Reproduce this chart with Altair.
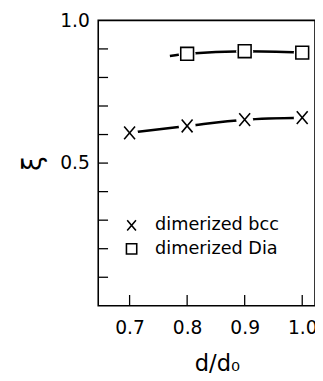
import altair as alt
import pandas as pd

# data
bcc_x = [0.7, 0.8, 0.9, 1.0]
bcc_y = [0.606, 0.630, 0.652, 0.659]
dia_x = [0.8, 0.9, 1.0]
dia_y = [0.883, 0.892, 0.887]
dia_line_x = [0.77, 0.8, 0.9, 1.0]
dia_line_y = [0.875, 0.883, 0.892, 0.887]
series = ["dimerized bcc", "dimerized Dia"]
x_tick_values = [0.7, 0.8, 0.9, 1.0]
y_tick_values = [0.1, 0.2, 0.3, 0.4, 0.5, 0.6, 0.7, 0.8, 0.9]
y_label_values = [0.5, 1.0]

FONT = "DejaVu Sans"
W, H = 221, 291
X_PATH = "M-0.85,-1L0.85,1M-0.85,1L0.85,-1"

lines = pd.concat([
    pd.DataFrame({"x": bcc_x, "y": bcc_y, "s": series[0]}),
    pd.DataFrame({"x": dia_line_x, "y": dia_line_y, "s": series[1]}),
])
pts = pd.concat([
    pd.DataFrame({"x": bcc_x, "y": bcc_y, "s": series[0]}),
    pd.DataFrame({"x": dia_x, "y": dia_y, "s": series[1]}),
])

xs = alt.Scale(domain=[0.6455, 1.0222], nice=False, zero=False)
ys = alt.Scale(domain=[0, 1.0], nice=False, zero=False)
shape_scale = alt.Scale(domain=series, range=[X_PATH, "square"])

xenc = alt.X("x:Q", scale=xs,
             axis=alt.Axis(title="d/d₀", values=x_tick_values, format=".1f",
                           domain=False, ticks=False, grid=False,
                           labelFont=FONT, labelFontSize=19, labelColor="black",
                           labelPadding=13, titleFont=FONT, titleFontSize=23,
                           titleFontWeight="normal", titleColor="black",
                           titlePadding=16, titleX=121))
yenc = alt.Y("y:Q", scale=ys,
             axis=alt.Axis(title="ξ", values=y_label_values, format=".1f",
                           domain=False, ticks=False, grid=False,
                           labelFont=FONT, labelFontSize=19, labelColor="black",
                           labelPadding=9, titleFont=FONT, titleFontSize=27,
                           titleFontWeight="normal", titleColor="black",
                           titlePadding=14))

line = alt.Chart(lines).mark_line(color="black", strokeWidth=2.6,
                                  interpolate="monotone").encode(
    x=xenc, y=yenc, detail="s:N")

halo = alt.Chart(pts).mark_circle(color="white", opacity=1, size=300).encode(
    x="x:Q", y="y:Q")

marks = alt.Chart(pts).mark_point(color="black", strokeWidth=1.6,
                                  filled=False, opacity=1, size=170).encode(
    x="x:Q", y="y:Q",
    shape=alt.Shape("s:N", scale=shape_scale,
                    legend=alt.Legend(title=None, orient="none", legendX=25,
                                      legendY=200, labelFont=FONT,
                                      labelFontSize=18, labelColor="black",
                                      labelOffset=15, rowPadding=6,
                                      symbolSize=110, symbolStrokeWidth=1.6,
                                      symbolStrokeColor="black")))

ytick_df = pd.DataFrame({"v": y_tick_values})
xtick_df = pd.DataFrame({"v": x_tick_values})
yticks = alt.Chart(ytick_df).mark_rule(color="black", strokeWidth=1.3).encode(
    y=alt.Y("v:Q", scale=ys), x=alt.value(0), x2=alt.value(10))
xticks = alt.Chart(xtick_df).mark_rule(color="black", strokeWidth=1.3).encode(
    x=alt.X("v:Q", scale=xs), y=alt.value(H), y2=alt.value(H - 11))

chart = alt.layer(line, halo, marks, yticks, xticks).properties(
    width=W, height=H, background="white",
    autosize=alt.AutoSizeParams(type="none"),
    padding={"left": 92, "top": 9, "right": 0, "bottom": 70},
).configure_view(stroke="black", strokeWidth=1.6)

chart.save("out.html", embed_options={"renderer": "svg", "actions": False})
